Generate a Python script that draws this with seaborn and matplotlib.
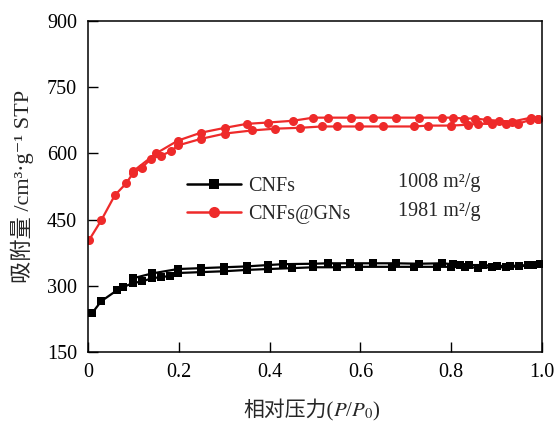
import matplotlib
matplotlib.use("Agg")
import matplotlib.pyplot as plt
import seaborn as sns
import pandas as pd
from matplotlib.lines import Line2D
from matplotlib.offsetbox import TextArea, HPacker, AnchoredOffsetbox

# ---- data ----
red_ads_x = [0.002, 0.029, 0.059, 0.084, 0.099, 0.119, 0.139, 0.161, 0.183, 0.198, 0.249, 0.302, 0.361, 0.412,
             0.467, 0.515, 0.548, 0.597, 0.65, 0.718, 0.749, 0.8, 0.837, 0.859, 0.89, 0.921, 0.947, 0.974, 0.991]
red_ads_y = [403, 448, 505, 532, 555, 568, 588, 595, 605, 618, 633, 645, 652, 656,
             658, 661, 661, 661, 661, 661, 663, 663, 665, 667, 667, 667, 667, 676, 679]
red_des_x = [0.991, 0.976, 0.934, 0.905, 0.879, 0.852, 0.828, 0.804, 0.78, 0.729, 0.678, 0.628, 0.579, 0.529,
             0.496, 0.452, 0.397, 0.35, 0.302, 0.249, 0.198, 0.15, 0.1]
red_des_y = [679, 681, 672, 674, 676, 679, 679, 681, 681, 681, 681, 681, 681, 681,
             681, 674, 670, 667, 658, 647, 629, 600, 560]

blk_ads_x = [0.009, 0.029, 0.064, 0.077, 0.099, 0.119, 0.141, 0.161, 0.181, 0.198, 0.249, 0.3, 0.35, 0.396,
             0.449, 0.496, 0.548, 0.597, 0.67, 0.718, 0.769, 0.8, 0.83, 0.86, 0.89, 0.92, 0.95, 0.98]
blk_ads_y = [238, 265, 290, 297, 306, 310, 317, 320, 322, 329, 331, 333, 336, 338,
             340, 342, 342, 343, 343, 343, 343, 343, 342, 341, 342, 342, 344, 347]
blk_des_x = [0.995, 0.97, 0.93, 0.9, 0.87, 0.84, 0.82, 0.804, 0.78, 0.729, 0.678, 0.628, 0.577, 0.529,
             0.496, 0.43, 0.396, 0.35, 0.3, 0.249, 0.198, 0.141, 0.099]
blk_des_y = [349, 347, 345, 345, 347, 347, 348, 349, 351, 350, 351, 351, 351, 351,
             350, 349, 347, 344, 342, 340, 338, 328, 317]

series_names = ["CNFs", "CNFs@GNs"]
surface_areas = ["1008 m²/g", "1981 m²/g"]
x_ticks = [0, 0.2, 0.4, 0.6, 0.8, 1.0]
x_ticklabels = ["0", "0.2", "0.4", "0.6", "0.8", "1.0"]
y_ticks = [150, 300, 450, 600, 750, 900]
y_label = "吸附量 /cm³·g⁻¹ STP"
x_label_cjk = "相对压力("
x_label_math = "$P$/$P_{0}$)"

# ---- style ----
sns.set_style("ticks")
FAM = ['Liberation Serif', 'Noto Sans CJK SC', 'DejaVu Sans']
plt.rcParams['font.family'] = FAM
plt.rcParams['mathtext.fontset'] = 'stix'
plt.rcParams['xtick.direction'] = 'in'
plt.rcParams['ytick.direction'] = 'in'

fig = plt.figure(figsize=(5.58, 4.28), dpi=100)
ax = fig.add_axes([88/558, 1-352/428, (542-88)/558, (352-21)/428])

def branch(xs, ys, name, branch_id):
    return pd.DataFrame({"x": xs, "y": ys, "series": name, "branch": branch_id, "order": range(len(xs))})

df = pd.concat([
    branch(blk_ads_x, blk_ads_y, "CNFs", "ads"),
    branch(blk_des_x, blk_des_y, "CNFs", "des"),
    branch(red_ads_x, red_ads_y, "CNFs@GNs", "ads"),
    branch(red_des_x, red_des_y, "CNFs@GNs", "des"),
])

styles = {"CNFs": dict(color="black", marker="s", ms=6.0),
          "CNFs@GNs": dict(color="#ee2a2a", marker="o", ms=6.5)}

for (name, br), sub in df.groupby(["series", "branch"]):
    st = styles[name]
    sns.lineplot(data=sub, x="x", y="y", sort=False, estimator=None, ax=ax,
                 color=st["color"], marker=st["marker"], markersize=st["ms"],
                 markeredgewidth=0, linewidth=1.6, legend=False)

ax.set_xlim(0, 1.0)
ax.set_ylim(150, 900)
ax.set_xticks(x_ticks)
ax.set_xticklabels(x_ticklabels)
ax.set_yticks(y_ticks)
ax.tick_params(labelsize=14.5, length=7, width=1, colors="black", pad=8)
for s in ax.spines.values():
    s.set_visible(True)
    s.set_linewidth(1.1)
    s.set_color("black")

ax.set_xlabel("")
ax.set_ylabel(y_label, fontsize=16, labelpad=9, family=FAM)

# x label composed of CJK text + mathtext piece
ta1 = TextArea(x_label_cjk, textprops=dict(fontsize=15, family=FAM))
ta2 = TextArea(x_label_math, textprops=dict(fontsize=15))
pack = HPacker(children=[ta1, ta2], align="baseline", pad=0, sep=0)
abox = AnchoredOffsetbox(loc="center", child=pack, pad=0, frameon=False,
                         bbox_to_anchor=(312/558, 1-411/428), bbox_transform=fig.transFigure,
                         borderpad=0)
fig.add_artist(abox)

handles = [Line2D([0], [0], color=styles[n]["color"], marker=styles[n]["marker"],
                  markersize=styles[n]["ms"] + 1.5, markeredgewidth=0, linewidth=1.8) for n in series_names]
leg = ax.legend(handles, series_names, loc="upper left", bbox_to_anchor=(0.218, 0.53),
                frameon=False, fontsize=14.5, handlelength=2.7, handletextpad=0.35,
                labelspacing=0.45, borderaxespad=0, borderpad=0)
for i, txt in enumerate(surface_areas):
    ax.text(0.683, 0.5106 - i * 0.0876, txt, transform=ax.transAxes, fontsize=14.5,
            va="center", ha="left")

fig.savefig("out.png", dpi=100)
